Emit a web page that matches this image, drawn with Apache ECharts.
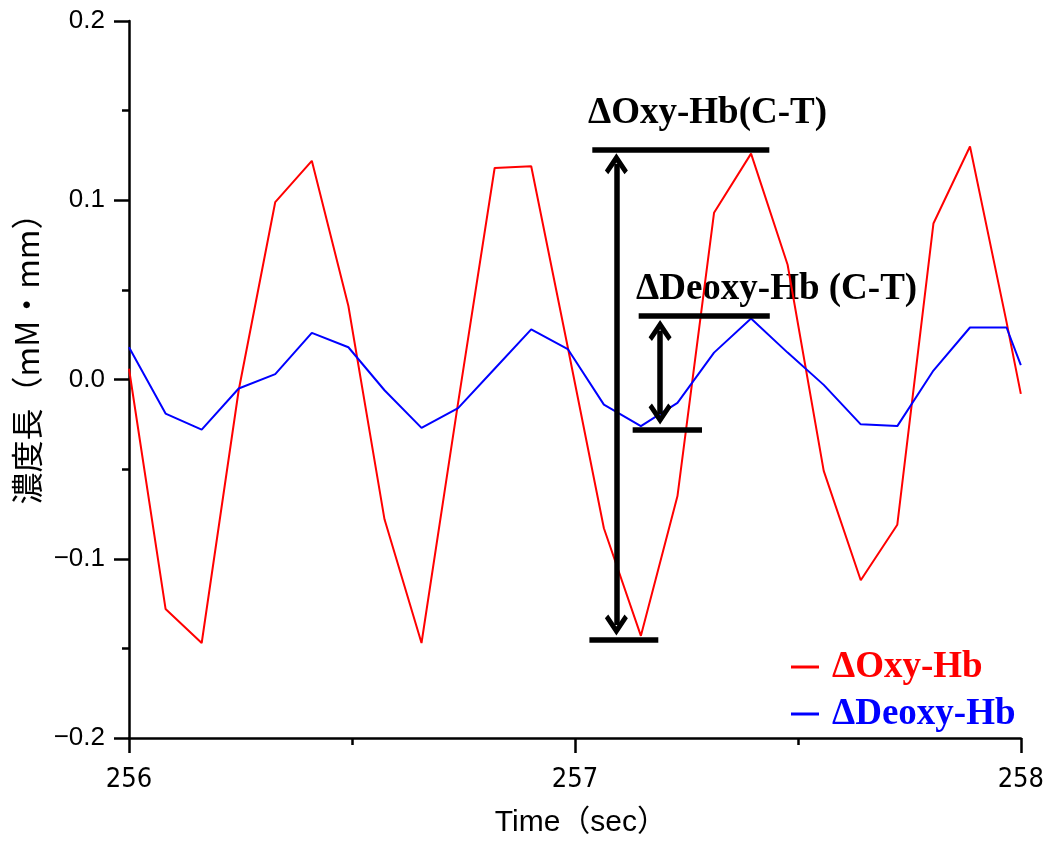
<!DOCTYPE html>
<html>
<head>
<meta charset="utf-8">
<script src="https://cdn.jsdelivr.net/npm/echarts@6/dist/echarts.min.js"></script>
<style>
html, body { margin: 0; padding: 0; background: #fff; }
#chart { width: 1047px; height: 843px; }
</style>
</head>
<body>
<div id="chart"></div>
<script>
// sample times (sec)
var timeSec = [256.000, 256.082, 256.163, 256.246, 256.328, 256.410, 256.492, 256.573, 256.656,
               256.738, 256.820, 256.902, 256.984, 257.065, 257.148, 257.230, 257.312, 257.395,
               257.477, 257.558, 257.641, 257.723, 257.804, 257.886, 257.968, 258.000];
// ΔOxy-Hb (red)
var oxyHb = [0.006, -0.128, -0.147, -0.006, 0.099, 0.122, 0.041, -0.078, -0.147,
             -0.013, 0.118, 0.119, 0.018, -0.083, -0.143, -0.065, 0.093, 0.126,
             0.064, -0.051, -0.112, -0.081, 0.087, 0.130, 0.032, -0.008];
// ΔDeoxy-Hb (blue)
var deoxyHb = [0.018, -0.019, -0.028, -0.005, 0.003, 0.026, 0.018, -0.006, -0.027,
               -0.016, 0.006, 0.028, 0.017, -0.014, -0.026, -0.013, 0.015, 0.034,
               0.015, -0.003, -0.025, -0.026, 0.005, 0.029, 0.029, 0.008];

// annotation bars [t0, t1, value] and arrows [t, top, bottom]
var oxyBars = [[257.039, 257.436, 0.1284], [257.0325, 257.187, -0.1454]];
var oxyArrow = [257.093, 0.1203, -0.1370];
var deoxyBars = [[257.143, 257.437, 0.0358], [257.1295, 257.285, -0.0279]];
var deoxyArrow = [257.191, 0.0273, -0.0193];

var chevron = 'path://M12 0 L24 16 L20.5 19.5 L12 8.5 L3.5 19.5 L0 16 Z';

function pairs(vals) {
    return timeSec.map(function(t, i) { return [t, vals[i]]; });
}
function bar(b) {
    return [{coord: [b[0], b[2]], symbol: 'none'}, {coord: [b[1], b[2]], symbol: 'none'}];
}
function arrow(a) {
    return [{coord: [a[0], a[1]], symbol: chevron}, {coord: [a[0], a[2]], symbol: chevron}];
}

var myChart = echarts.init(document.getElementById('chart'));
var sans = '"Liberation Sans", Arial, sans-serif';
var serifBold = '"Liberation Serif", "Times New Roman", serif';

var option = {
    animation: false,
    grid: { left: 129, right: 24, top: 21, bottom: 103 },
    xAxis: {
        type: 'value',
        min: 256, max: 258, interval: 1,
        name: 'Time（sec）',
        nameLocation: 'middle',
        nameGap: 70,
        nameTextStyle: { fontFamily: sans + ', "Noto Sans CJK JP"', fontSize: 30, color: '#000', padding: [0, 0, 0, 12] },
        axisLine: { onZero: false, lineStyle: { color: '#000', width: 2.5 } },
        axisTick: { show: true, length: 15, lineStyle: { color: '#000', width: 2.5 } },
        minorTick: { show: true, splitNumber: 2, length: 7, lineStyle: { color: '#000', width: 2.5 } },
        splitLine: { show: false },
        axisLabel: { fontFamily: '"DejaVu Sans Condensed", sans-serif', fontSize: 27, color: '#000', margin: 28 }
    },
    yAxis: {
        type: 'value',
        min: -0.2, max: 0.2, interval: 0.1,
        name: '濃度長（mM・mm）',
        nameLocation: 'middle',
        nameGap: 84,
        nameTextStyle: { fontFamily: '"Noto Sans CJK JP", sans-serif', fontSize: 32, color: '#000', padding: [0, 0, 0, 57] },
        axisLine: { show: true, onZero: false, lineStyle: { color: '#000', width: 2.5 } },
        axisTick: { show: true, length: 15, lineStyle: { color: '#000', width: 2.5 } },
        minorTick: { show: true, splitNumber: 2, length: 7, lineStyle: { color: '#000', width: 2.5 } },
        splitLine: { show: false },
        axisLabel: {
            fontFamily: sans, fontSize: 26, color: '#000', margin: 24,
            formatter: function(v) { return v.toFixed(1).replace('-', '\u2212'); }
        }
    },
    legend: {
        orient: 'vertical',
        left: 791, top: 647, padding: 0,
        itemWidth: 28, itemHeight: 3, itemGap: 7,
        icon: 'rect',
        textStyle: { fontFamily: serifBold, fontWeight: 'bold', fontSize: 37, lineHeight: 40, padding: [0, 0, 0, 8] },
        data: [
            { name: 'ΔOxy-Hb', textStyle: { color: '#ff0000' } },
            { name: 'ΔDeoxy-Hb', textStyle: { color: '#0000ff' } }
        ]
    },
    graphic: [
        { type: 'text', x: 588, y: 113, style: { text: 'ΔOxy-Hb(C-T)', font: 'bold 37px ' + serifBold, fill: '#000', verticalAlign: 'middle' } },
        { type: 'text', x: 636, y: 289, style: { text: 'ΔDeoxy-Hb (C-T)', font: 'bold 37px ' + serifBold, fill: '#000', verticalAlign: 'middle' } }
    ],
    series: [
        {
            name: 'ΔOxy-Hb', type: 'line', data: pairs(oxyHb),
            showSymbol: false, lineStyle: { color: '#ff0000', width: 2 }, itemStyle: { color: '#ff0000' }
        },
        {
            name: 'ΔDeoxy-Hb', type: 'line', data: pairs(deoxyHb),
            showSymbol: false, lineStyle: { color: '#0000ff', width: 2 }, itemStyle: { color: '#0000ff' }
        },
        {
            name: 'annot', type: 'line', data: [],
            markLine: {
                silent: true,
                symbol: 'none',
                symbolSize: [23, 21],
                label: { show: false },
                lineStyle: { color: '#000', width: 5.5, type: 'solid', cap: 'butt' },
                itemStyle: { color: '#000' },
                data: [
                    bar(oxyBars[0]), bar(oxyBars[1]), arrow(oxyArrow),
                    bar(deoxyBars[0]), bar(deoxyBars[1]), arrow(deoxyArrow)
                ]
            }
        }
    ]
};
myChart.setOption(option);
</script>
</body>
</html>
